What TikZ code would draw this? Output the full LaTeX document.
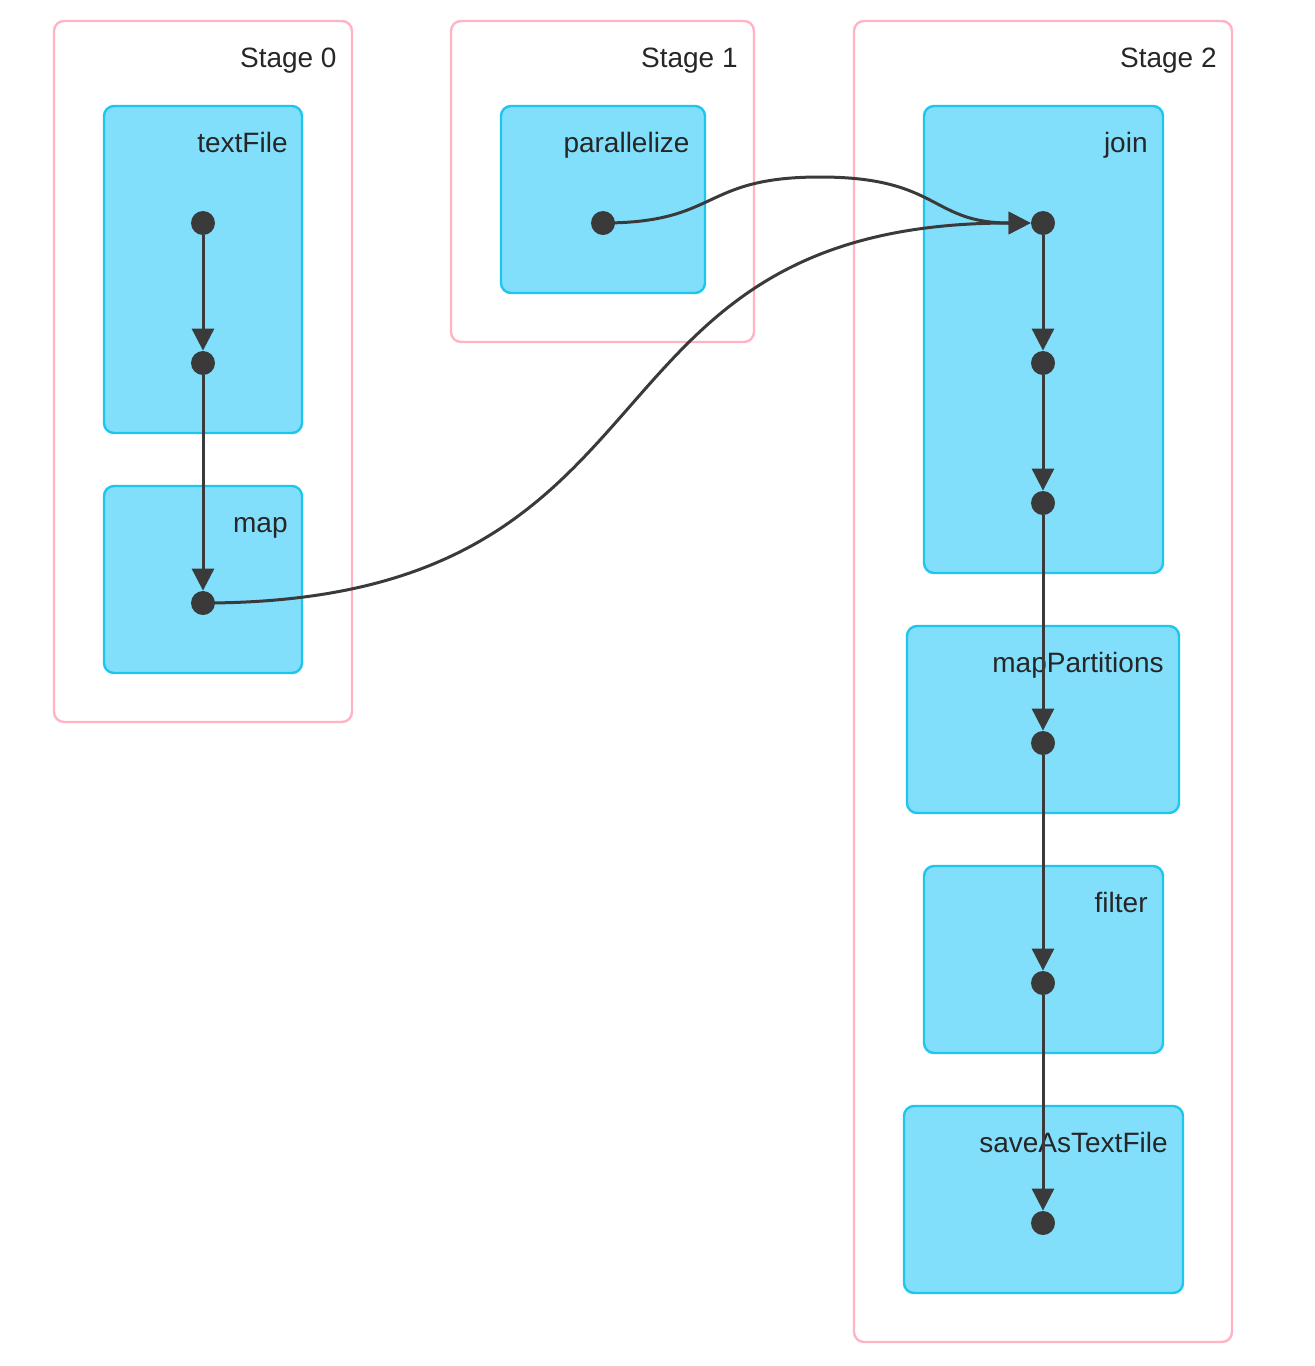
\documentclass[tikz,border=0pt]{standalone}
\usepackage{fontspec}
\setmainfont{Liberation Sans}
\usetikzlibrary{arrows.meta}
\definecolor{stagec}{HTML}{FFB3C3}
\definecolor{boxf}{HTML}{82DFFC}
\definecolor{boxd}{HTML}{1CC6EC}
\definecolor{ink}{HTML}{3A3A3A}
\begin{document}
\begin{tikzpicture}[x=0.5pt,y=-0.5pt,
 stage/.style={draw=stagec,line width=1.2pt,rounded corners=5pt},
 op/.style={draw=boxd,fill=boxf,line width=1.2pt,rounded corners=5pt},
 lbl/.style={anchor=base east,inner sep=0pt,font=\fontsize{14}{16}\selectfont,text=black!85},
 dot/.style={circle,fill=ink,minimum size=12pt,inner sep=0pt},
 arr/.style={draw=ink,line width=1.5pt,-{Triangle[length=11pt,width=11pt]}}]
\useasboundingbox (0,0) rectangle (1314,1366);
\draw[stage] (54,21) rectangle (352,722); \node[lbl] (s0) at (337,67) {Stage 0};
\draw[stage] (451,21) rectangle (754,342); \node[lbl] (s1) at (738,67) {Stage 1};
\draw[stage] (854,21) rectangle (1232,1342); \node[lbl] (s2) at (1217,67) {Stage 2};
\draw[op] (104,106) rectangle (302,433); \node[lbl] (l1) at (288,152) {textFile};
\draw[op] (104,486) rectangle (302,673); \node[lbl] (l2) at (288,532) {map};
\draw[op] (501,106) rectangle (705,293); \node[lbl] (l3) at (690,152) {parallelize};
\draw[op] (924,106) rectangle (1163,573); \node[lbl] (l4) at (1148,152) {join};
\draw[op] (907,626) rectangle (1179,813); \node[lbl] (l5) at (1164,672) {mapPartitions};
\draw[op] (924,866) rectangle (1163,1053); \node[lbl] (l6) at (1148,912) {filter};
\draw[op] (904,1106) rectangle (1183,1293); \node[lbl] (l7) at (1168,1152) {saveAsTextFile};
\node[dot] (a1) at (203,223) {};
\node[dot] (a2) at (203,363) {};
\node[dot] (a3) at (203,603) {};
\node[dot] (p1) at (603,223) {};
\node[dot] (j1) at (1043,223) {};
\node[dot] (j2) at (1043,363) {};
\node[dot] (j3) at (1043,503) {};
\node[dot] (m1) at (1043,743) {};
\node[dot] (f1) at (1043,983) {};
\node[dot] (t1) at (1043,1223) {};
\draw[arr] (a1) -- (a2);
\draw[arr] (a2) -- (a3);
\draw[arr] (j1) -- (j2);
\draw[arr] (j2) -- (j3);
\draw[arr] (j3) -- (m1);
\draw[arr] (m1) -- (f1);
\draw[arr] (f1) -- (t1);
\draw[arr] (p1.center) .. controls (720,223) and (700,177) .. (820,177) .. controls (940,177) and (930,223) .. (j1.west);
\draw[arr] (a3.center) .. controls (700,603) and (560,223) .. (j1.west);
\end{tikzpicture}
\end{document}
